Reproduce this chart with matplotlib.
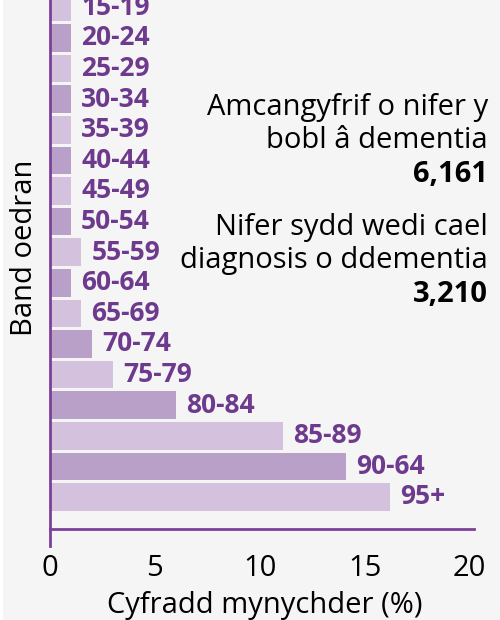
import numpy as np
import matplotlib
matplotlib.use("Agg")
import matplotlib.pyplot as plt
from matplotlib.patches import Rectangle

plt.rcParams['font.family'] = ['Open Sans', 'DejaVu Sans']

# age bands (top to bottom) and prevalence rate in %
age_bands = ["15-19", "20-24", "25-29", "30-34", "35-39", "40-44", "45-49",
             "50-54", "55-59", "60-64", "65-69", "70-74", "75-79", "80-84",
             "85-89", "90-64", "95+"]
prevalence = [1.0, 1.0, 1.0, 1.0, 1.0, 1.0, 1.0,
              1.0, 1.5, 1.0, 1.5, 2.0, 3.0, 6.0,
              11.1, 14.1, 16.2]

# side panel text
estimate_label = ["Amcangyfrif o nifer y", "bobl â dementia"]
estimate_value = "6,161"
diagnosed_label = ["Nifer sydd wedi cael", "diagnosis o ddementia"]
diagnosed_value = "3,210"

xticks = [0, 5, 10, 15, 20]
xlabel = "Cyfradd mynychder (%)"
ylabel = "Band oedran"

bg = "#f5f5f5"
purple = "#6e3a8e"
line_col = "#7b4199"
light = "#d3c1de"
dark = "#b9a0c8"

fig = plt.figure(figsize=(5, 6.2), dpi=100, facecolor=bg)
# thin white strip on the left edge
fig.patches.append(Rectangle((0, 0), 3 / 500, 1, transform=fig.transFigure,
                             facecolor="white", edgecolor="none"))

ax = fig.add_axes([49.5 / 500, 1 - 528.5 / 620, 424.5 / 500, 528.5 / 620])
ax.set_facecolor(bg)

n = len(age_bands)
ypos = np.arange(n)[::-1]
colors = [light if i % 2 == 0 else dark for i in range(n)]
ax.barh(ypos, prevalence, height=0.9, color=colors, edgecolor="none", zorder=1)

for y, v, lab in zip(ypos, prevalence, age_bands):
    ax.text(v + 0.5, y, lab, ha="left", va="center", color=purple,
            fontsize=19, fontweight="bold")

ax.set_xlim(0, 20.2)
ax.set_ylim(-1.03, 16.24)
ax.set_xticks(xticks)
ax.set_xticklabels([str(t) for t in xticks], fontsize=21)
ax.set_yticks([])
ax.tick_params(axis="x", length=0, pad=18)

for s in ["top", "right"]:
    ax.spines[s].set_visible(False)
ax.spines["left"].set_color(line_col)
ax.spines["bottom"].set_color(line_col)
ax.spines["left"].set_linewidth(2)
ax.spines["bottom"].set_linewidth(2)
ax.spines["left"].set_bounds(-1.6, 16.24)

fig.text(265 / 500, 1 - 613 / 620, xlabel, ha="center", va="baseline", fontsize=21)
fig.text(25 / 500, 1 - 248 / 620, ylabel, ha="center", va="center",
         rotation=90, fontsize=21)

# side panel, right aligned
lines = [(estimate_label[0], 115, "normal"), (estimate_label[1], 148, "normal"),
         (estimate_value, 182, "bold"),
         (diagnosed_label[0], 235, "normal"), (diagnosed_label[1], 268, "normal"),
         (diagnosed_value, 302, "bold")]
for txt, yb, w in lines:
    fig.text(488 / 500, 1 - yb / 620, txt, ha="right", va="baseline",
             fontsize=21, fontweight=w, color="black")

fig.savefig("out.png", dpi=100, facecolor=bg)
